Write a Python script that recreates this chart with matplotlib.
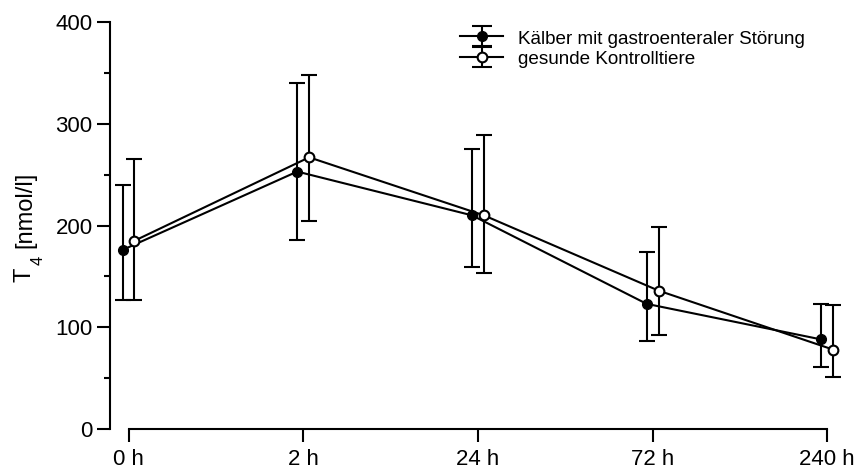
import matplotlib.pyplot as plt
import numpy as np
from matplotlib.legend_handler import HandlerErrorbar
from matplotlib.lines import Line2D

plt.rcParams['font.family'] = ['Liberation Sans', 'DejaVu Sans']

# Zeitpunkte
zeiten = ['0 h', '2 h', '24 h', '72 h', '240 h']

# Kälber mit gastroenteraler Störung
krank = [176, 253, 210, 123, 88]
krank_oben = [240, 340, 275, 174, 123]
krank_unten = [127, 186, 159, 86, 61]

# gesunde Kontrolltiere
gesund = [185, 267, 210, 136, 78]
gesund_oben = [265, 348, 289, 199, 122]
gesund_unten = [127, 204, 153, 92, 51]

x = np.arange(len(zeiten))
dx = 0.034

fig = plt.figure(figsize=(8.58, 4.72), dpi=100)
ax = fig.add_axes([110 / 858, 43 / 472, 740 / 858, 407 / 472])

k = np.array(krank)
g = np.array(gesund)
ax.errorbar(x - dx, k, yerr=[k - np.array(krank_unten), np.array(krank_oben) - k],
            color='black', marker='o', markersize=7, mfc='black', mec='black',
            lw=1.5, elinewidth=1.5, capsize=6, capthick=1.5,
            label='Kälber mit gastroenteraler Störung', zorder=3)
ax.errorbar(x + dx, g, yerr=[g - np.array(gesund_unten), np.array(gesund_oben) - g],
            color='black', marker='o', markersize=7, mfc='white', mec='black',
            mew=1.5, lw=1.5, elinewidth=1.5, capsize=6, capthick=1.5,
            label='gesunde Kontrolltiere', zorder=4)

ax.set_xlim(-0.106, 4.13)
ax.set_ylim(0, 400)

for s in ['top', 'right']:
    ax.spines[s].set_visible(False)
ax.spines['left'].set_linewidth(1.5)
ax.spines['bottom'].set_linewidth(1.5)
ax.spines['bottom'].set_bounds(0, 4)

ax.set_xticks(x)
ax.set_xticklabels(zeiten)
ax.set_yticks([0, 100, 200, 300, 400])
ax.set_yticks([50, 150, 250, 350], minor=True)
ax.tick_params(axis='both', which='major', length=9.5, width=1.5, labelsize=16, pad=3)
ax.tick_params(axis='x', which='major', pad=5)
ax.tick_params(axis='y', which='minor', length=4.5, width=1.5)

# Achsenbeschriftung T4 [nmol/l]
fig.text(31 / 858, 1 - 282 / 472, 'T', fontsize=17, rotation=90,
         rotation_mode='anchor', ha='left', va='baseline')
fig.text(43 / 858, 1 - 265 / 472, '4', fontsize=12, rotation=90,
         rotation_mode='anchor', ha='left', va='baseline')
fig.text(31 / 858, 1 - 248 / 472, '[nmol/l]', fontsize=17, rotation=90,
         rotation_mode='anchor', ha='left', va='baseline')

leg = fig.legend(loc='upper left', bbox_to_anchor=(451 / 858, 1 - 19 / 472),
                 frameon=False, fontsize=13.6, borderpad=0, labelspacing=0.05,
                 handlelength=2.25, handletextpad=0.8, handleheight=1.1,
                 handler_map={type(ax.containers[0]): HandlerErrorbar(yerr_size=0.56)})
for ln in leg.findobj(Line2D):
    if ln.get_marker() == '_':
        ln.set_markersize(14)

fig.savefig('out.png', dpi=100)
